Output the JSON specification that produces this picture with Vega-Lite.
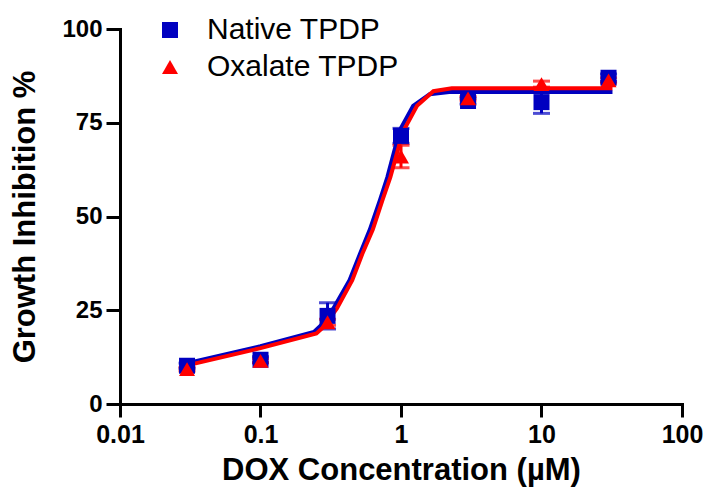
{
 "$schema": "https://vega.github.io/schema/vega-lite/v6.json",
 "width": 562, "height": 375,
 "autosize": {"type": "none"},
 "padding": {"left": 120, "top": 29, "right": 24, "bottom": 88},
 "background": "white",
 "config": {"view": {"stroke": null}, "font": "Liberation Sans"},
 "datasets": {
  "points": [
   {"series": "Native TPDP", "x": 0.03, "y": 10.2, "lo": 9.5, "hi": 10.9},
   {"series": "Native TPDP", "x": 0.1, "y": 11.8, "lo": 11.0, "hi": 12.6},
   {"series": "Native TPDP", "x": 0.3, "y": 23.5, "lo": 20.0, "hi": 27.0},
   {"series": "Native TPDP", "x": 1, "y": 71.5, "lo": 69.5, "hi": 73.5},
   {"series": "Native TPDP", "x": 3, "y": 80.8, "lo": 80.0, "hi": 81.6},
   {"series": "Native TPDP", "x": 10, "y": 80.5, "lo": 77.5, "hi": 83.5},
   {"series": "Native TPDP", "x": 30, "y": 87.0, "lo": 86.0, "hi": 88.0},
   {"series": "Oxalate TPDP", "x": 0.03, "y": 9.3, "lo": 8.8, "hi": 9.8},
   {"series": "Oxalate TPDP", "x": 0.1, "y": 11.5, "lo": 11.0, "hi": 12.0},
   {"series": "Oxalate TPDP", "x": 0.3, "y": 21.8, "lo": 21.0, "hi": 22.6},
   {"series": "Oxalate TPDP", "x": 1, "y": 66.0, "lo": 63.0, "hi": 69.0},
   {"series": "Oxalate TPDP", "x": 3, "y": 81.5, "lo": 81.0, "hi": 82.0},
   {"series": "Oxalate TPDP", "x": 10, "y": 85.3, "lo": 84.5, "hi": 86.1},
   {"series": "Oxalate TPDP", "x": 30, "y": 86.3, "lo": 85.6, "hi": 87.0}
  ],
  "curves": [
   {"series": "Native TPDP", "x": 0.03, "y": 10.9},
   {"series": "Native TPDP", "x": 0.1, "y": 15.4},
   {"series": "Native TPDP", "x": 0.24, "y": 19.2},
   {"series": "Native TPDP", "x": 0.27, "y": 21.0},
   {"series": "Native TPDP", "x": 0.33, "y": 25.5},
   {"series": "Native TPDP", "x": 0.43, "y": 33.0},
   {"series": "Native TPDP", "x": 0.51, "y": 40.0},
   {"series": "Native TPDP", "x": 0.6, "y": 46.5},
   {"series": "Native TPDP", "x": 0.71, "y": 54.5},
   {"series": "Native TPDP", "x": 0.8, "y": 60.5},
   {"series": "Native TPDP", "x": 0.98, "y": 73.0},
   {"series": "Native TPDP", "x": 1.22, "y": 79.5},
   {"series": "Native TPDP", "x": 1.6, "y": 82.6},
   {"series": "Native TPDP", "x": 2.2, "y": 83.2},
   {"series": "Native TPDP", "x": 32, "y": 83.2},
   {"series": "Oxalate TPDP", "x": 0.03, "y": 10.3},
   {"series": "Oxalate TPDP", "x": 0.1, "y": 14.9},
   {"series": "Oxalate TPDP", "x": 0.25, "y": 18.8},
   {"series": "Oxalate TPDP", "x": 0.28, "y": 20.5},
   {"series": "Oxalate TPDP", "x": 0.35, "y": 25.5},
   {"series": "Oxalate TPDP", "x": 0.45, "y": 33.0},
   {"series": "Oxalate TPDP", "x": 0.53, "y": 40.0},
   {"series": "Oxalate TPDP", "x": 0.63, "y": 46.5},
   {"series": "Oxalate TPDP", "x": 0.74, "y": 54.5},
   {"series": "Oxalate TPDP", "x": 0.84, "y": 60.5},
   {"series": "Oxalate TPDP", "x": 1.03, "y": 72.5},
   {"series": "Oxalate TPDP", "x": 1.3, "y": 79.5},
   {"series": "Oxalate TPDP", "x": 1.7, "y": 83.4},
   {"series": "Oxalate TPDP", "x": 2.3, "y": 84.2},
   {"series": "Oxalate TPDP", "x": 32, "y": 84.2}
  ]
 },
 "encoding": {
  "x": {"field": "x", "type": "quantitative",
   "scale": {"type": "log", "domain": [0.01, 100], "nice": false},
   "axis": {"values": [0.01, 0.1, 1, 10, 100], "format": "~g", "grid": false,
    "labelFont": "Liberation Sans", "labelFontWeight": "bold", "labelFontSize": 25, "labelColor": "black",
    "domainColor": "black", "domainWidth": 3, "domainCap": "square", "tickColor": "black", "tickWidth": 3, "tickSize": 13,
    "labelPadding": 5, "labelFlush": false, "labelOverlap": false,
    "title": "DOX Concentration (µM)", "titleFont": "Liberation Sans", "titleFontSize": 31, "titleFontWeight": "bold", "titleColor": "black", "titlePadding": 8}},
  "y": {"field": "y", "type": "quantitative",
   "scale": {"domain": [0, 100], "nice": false},
   "axis": {"values": [0, 25, 50, 75, 100], "grid": false,
    "labelFont": "Liberation Sans", "labelFontWeight": "bold", "labelFontSize": 24, "labelColor": "black",
    "domainColor": "black", "domainWidth": 3, "domainCap": "square", "tickColor": "black", "tickWidth": 3, "tickSize": 14,
    "labelPadding": 4, "labelFlush": false, "labelOverlap": false,
    "title": "Growth Inhibition %", "titleFont": "Liberation Sans", "titleFontSize": 31, "titleFontWeight": "bold", "titleColor": "black", "titlePadding": 20}}
 },
 "layer": [
  {"data": {"name": "points"}, "transform": [{"filter": "datum.series == 'Native TPDP'"}],
   "mark": {"type": "rule", "color": "#0000c0", "strokeWidth": 3},
   "encoding": {"y": {"field": "lo", "type": "quantitative"}, "y2": {"field": "hi"}}},
  {"data": {"name": "points"}, "transform": [{"filter": "datum.series == 'Native TPDP'"}],
   "mark": {"type": "tick", "orient": "horizontal", "color": "#0000c0", "size": 17, "thickness": 3},
   "encoding": {"y": {"field": "lo", "type": "quantitative"}}},
  {"data": {"name": "points"}, "transform": [{"filter": "datum.series == 'Native TPDP'"}],
   "mark": {"type": "tick", "orient": "horizontal", "color": "#0000c0", "size": 17, "thickness": 3},
   "encoding": {"y": {"field": "hi", "type": "quantitative"}}},
  {"data": {"name": "points"}, "transform": [{"filter": "datum.series == 'Oxalate TPDP'"}],
   "mark": {"type": "rule", "color": "#ff0000", "strokeWidth": 3},
   "encoding": {"y": {"field": "lo", "type": "quantitative"}, "y2": {"field": "hi"}}},
  {"data": {"name": "points"}, "transform": [{"filter": "datum.series == 'Oxalate TPDP'"}],
   "mark": {"type": "tick", "orient": "horizontal", "color": "#ff0000", "size": 17, "thickness": 3},
   "encoding": {"y": {"field": "lo", "type": "quantitative"}}},
  {"data": {"name": "points"}, "transform": [{"filter": "datum.series == 'Oxalate TPDP'"}],
   "mark": {"type": "tick", "orient": "horizontal", "color": "#ff0000", "size": 17, "thickness": 3},
   "encoding": {"y": {"field": "hi", "type": "quantitative"}}},
  {"data": {"name": "curves"}, "transform": [{"filter": "datum.series == 'Native TPDP'"}],
   "mark": {"type": "line", "color": "#0000c0", "strokeWidth": 4}},
  {"data": {"name": "curves"}, "transform": [{"filter": "datum.series == 'Oxalate TPDP'"}],
   "mark": {"type": "line", "color": "#ff0000", "strokeWidth": 4}},
  {"data": {"name": "points"},
   "mark": {"type": "point", "filled": true, "opacity": 1, "size": 256},
   "encoding": {
    "color": {"field": "series", "type": "nominal",
     "scale": {"domain": ["Native TPDP", "Oxalate TPDP"], "range": ["#0000c0", "#ff0000"]},
     "legend": {"title": null, "orient": "none", "legendX": 35, "legendY": -14,
      "labelFont": "Liberation Sans", "labelFontSize": 30, "labelColor": "black", "labelFontWeight": "normal", "labelLimit": 0,
      "symbolSize": 256, "symbolStrokeWidth": 0, "labelOffset": 22, "rowPadding": 7, "padding": 0}},
    "shape": {"field": "series", "type": "nominal",
     "scale": {"domain": ["Native TPDP", "Oxalate TPDP"], "range": ["square", "triangle-up"]},
     "legend": {"title": null, "orient": "none", "legendX": 35, "legendY": -14,
      "labelFont": "Liberation Sans", "labelFontSize": 30, "labelColor": "black", "labelFontWeight": "normal", "labelLimit": 0,
      "symbolSize": 256, "symbolStrokeWidth": 0, "labelOffset": 22, "rowPadding": 7, "padding": 0}}
   }}
 ]
}
